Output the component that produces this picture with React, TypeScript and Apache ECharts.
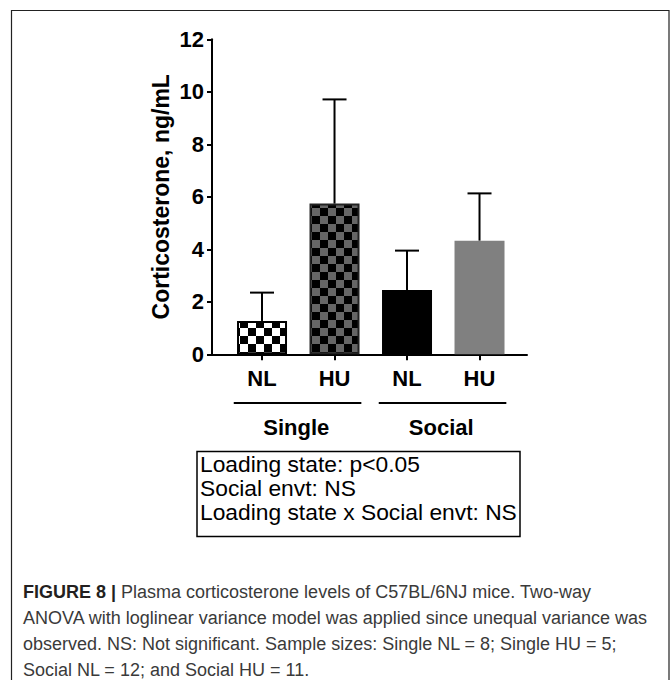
import React, { useEffect, useRef } from "react";
import * as echarts from "echarts";

const categories = ["NL", "HU", "NL", "HU"];
const groups = ["Single", "Social"];
const groupSpans = [[0, 1], [2, 3]];
const meanValues = [1.27, 5.74, 2.45, 4.33];
const upperErrorValues = [2.35, 9.71, 3.95, 6.13];
const yTicks = [0, 2, 4, 6, 8, 10, 12];
const statsLines = [
  "Loading state: p<0.05",
  "Social envt: NS",
  "Loading state x Social envt: NS",
];
const captionBold = "FIGURE 8 |";
const captionLines = [
  " Plasma corticosterone levels of C57BL/6NJ mice. Two-way",
  "ANOVA with loglinear variance model was applied since unequal variance was",
  "observed. NS: Not significant. Sample sizes: Single NL = 8; Single HU = 5;",
  "Social NL = 12; and Social HU = 11.",
];

const FONT = "'Liberation Sans', Arial, Helvetica, sans-serif";

function makeChecker(c1: string, c2: string, size: number) {
  const cv = document.createElement("canvas");
  cv.width = size * 2;
  cv.height = size * 2;
  const ctx = cv.getContext("2d")!;
  ctx.fillStyle = c1;
  ctx.fillRect(0, 0, size * 2, size * 2);
  ctx.fillStyle = c2;
  ctx.fillRect(0, 0, size, size);
  ctx.fillRect(size, size, size, size);
  return { image: cv, repeat: "repeat", imageWidth: size * 2, imageHeight: size * 2 };
}

export default function App() {
  const ref = useRef<HTMLDivElement>(null);
  useEffect(() => {
    if (!ref.current) return;
    const chart = echarts.init(ref.current, null, { renderer: "svg" });
    const checkWB = makeChecker("#ffffff", "#000000", 8);
    const checkGB = makeChecker("#666666", "#000000", 8);
    const barStyles = [
      { color: checkWB, borderColor: "#000", borderWidth: 2 },
      { color: checkGB, borderColor: "#222", borderWidth: 2 },
      { color: "#000000" },
      { color: "#808080" },
    ];
    const option: any = {
      animation: false,
      backgroundColor: "#ffffff",
      grid: {
        left: 212,
        right: 143,
        top: 39.3,
        bottom: 325.7,
        containLabel: false,
        outerBoundsMode: "none",
      },
      xAxis: {
        type: "value",
        min: -0.69,
        max: 3.655,
        splitLine: { show: false },
        axisLine: { show: true, onZero: false, lineStyle: { color: "#000", width: 2 } },
        axisTick: {
          show: true,
          customValues: categories.map((_, i) => i),
          length: 6,
          lineStyle: { color: "#000", width: 2 },
        },
        axisLabel: {
          show: true,
          customValues: categories.map((_, i) => i),
          formatter: (v: number) => categories[Math.round(v)] ?? "",
          color: "#000",
          fontWeight: "bold",
          fontSize: 22,
          fontFamily: FONT,
          margin: 13,
        },
      },
      yAxis: {
        type: "value",
        min: 0,
        max: 12,
        interval: 2,
        splitLine: { show: false },
        axisLine: { show: true, onZero: false, lineStyle: { color: "#000", width: 2 } },
        axisTick: { show: true, length: 5, lineStyle: { color: "#000", width: 2 } },
        axisLabel: {
          color: "#000",
          fontWeight: "bold",
          fontSize: 22,
          fontFamily: FONT,
          margin: 8,
          formatter: (v: number) => (yTicks.includes(v) ? String(v) : ""),
        },
        name: "Corticosterone, ng/mL",
        nameLocation: "middle",
        nameGap: 40,
        nameRotate: 90,
        nameTextStyle: { color: "#000", fontWeight: "bold", fontSize: 23, fontFamily: FONT },
      },
      series: [
        {
          type: "bar",
          barWidth: 50,
          data: meanValues.map((v, i) => ({ value: [i, v], itemStyle: barStyles[i] })),
        },
        {
          type: "custom",
          z: 3,
          data: meanValues.map((v, i) => [i, v, upperErrorValues[i]]),
          encode: { x: 0, y: [1, 2] },
          renderItem: (params: any, api: any) => {
            const x = api.value(0);
            const p0 = api.coord([x, api.value(1)]);
            const p1 = api.coord([x, api.value(2)]);
            const st = { stroke: "#000", lineWidth: 2 };
            return {
              type: "group",
              children: [
                { type: "line", shape: { x1: p0[0], y1: p0[1], x2: p1[0], y2: p1[1] }, style: st },
                { type: "line", shape: { x1: p1[0] - 12, y1: p1[1], x2: p1[0] + 12, y2: p1[1] }, style: st },
              ],
            };
          },
        },
      ],
    };
    chart.setOption(option);

    const px = (v: number) => chart.convertToPixel({ xAxisIndex: 0 }, v) as number;
    const graphics: any[] = [
      {
        type: "rect",
        shape: { x: 11.5, y: 10.5, width: 657.5, height: 720 },
        style: { fill: "none", stroke: "#222", lineWidth: 1.2 },
        silent: true,
      },
    ];
    groupSpans.forEach((span, gi) => {
      const x1 = px(span[0] - 0.39);
      const x2 = px(span[1] + 0.37);
      graphics.push({
        type: "line",
        shape: { x1, y1: 403, x2, y2: 403 },
        style: { stroke: "#000", lineWidth: 2 },
      });
      graphics.push({
        type: "text",
        x: px((span[0] + span[1]) / 2) - 2,
        y: 427,
        style: {
          text: groups[gi],
          fill: "#000",
          font: `bold 22px ${FONT}`,
          textAlign: "center",
          textVerticalAlign: "middle",
        },
      });
    });
    graphics.push({
      type: "rect",
      shape: { x: 197, y: 451.5, width: 323, height: 85 },
      style: { fill: "none", stroke: "#000", lineWidth: 1.5 },
    });
    statsLines.forEach((t, i) => {
      graphics.push({
        type: "text",
        x: 200,
        y: 464 + i * 24,
        style: { text: t, fill: "#000", font: `22.8px ${FONT}`, textAlign: "left", textVerticalAlign: "middle" },
      });
    });
    captionLines.forEach((t, i) => {
      graphics.push({
        type: "text",
        x: 23,
        y: 592 + i * 26,
        style:
          i === 0
            ? {
                text: `{b|${captionBold}}{n|${t}}`,
                textVerticalAlign: "middle",
                rich: {
                  b: { font: `bold 18px ${FONT}`, fill: "#231f20" },
                  n: { font: `18px ${FONT}`, fill: "#3a3a3a" },
                },
              }
            : { text: t, fill: "#3a3a3a", font: `18px ${FONT}`, textVerticalAlign: "middle" },
      });
    });
    chart.setOption({ graphic: { elements: graphics } });

    return () => chart.dispose();
  }, []);
  return (
    <div
      ref={ref}
      style={{ position: "fixed", left: 0, top: 0, width: 670, height: 680, background: "#fff" }}
    />
  );
}
